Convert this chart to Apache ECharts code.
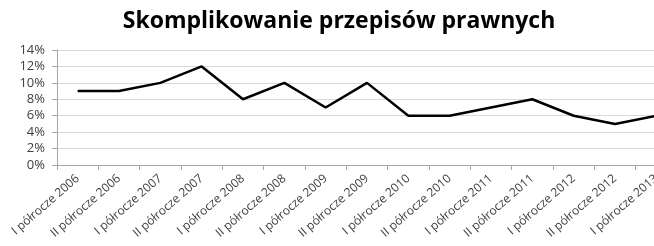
<!DOCTYPE html>
<html>
<head>
<meta charset="utf-8">
<script src="https://cdn.jsdelivr.net/npm/echarts@6/dist/echarts.min.js"></script>
<style>
  html, body { margin: 0; padding: 0; background: #fff; }
  #chart { width: 654px; height: 246px; }
</style>
</head>
<body>
<div id="chart"></div>
<script>
// dane
const categories = [
  'I półrocze 2006', 'II półrocze 2006', 'I półrocze 2007', 'II półrocze 2007',
  'I półrocze 2008', 'II półrocze 2008', 'I półrocze 2009', 'II półrocze 2009',
  'I półrocze 2010', 'II półrocze 2010', 'I półrocze 2011', 'II półrocze 2011',
  'I półrocze 2012', 'II półrocze 2012', 'I półrocze 2013'
];
const values = [9, 9, 10, 12, 8, 10, 7, 10, 6, 6, 7, 8, 6, 5, 6];
const yMin = 0, yMax = 14, yStep = 2;

const myChart = echarts.init(document.getElementById('chart'));

let options = {
  animation: false,
  title: {
    text: 'Skomplikowanie przepisów prawnych',
    left: 334, top: 5, textAlign: 'center',
    textStyle: { fontFamily: 'Open Sans', fontSize: 23, fontWeight: 'bold', color: '#000' }
  },
  grid: { left: 57, top: 50, width: 620, height: 115, outerBoundsMode: 'none', containLabel: false },
  xAxis: {
    type: 'category',
    data: categories,
    boundaryGap: true,
    axisLine: { lineStyle: { color: '#a6a6a6' } },
    axisTick: { show: true, alignWithLabel: false, length: 5, lineStyle: { color: '#a6a6a6' } },
    axisLabel: {
      interval: 0, rotate: 41, margin: 12,
      fontFamily: 'Open Sans', fontSize: 12, color: '#404040'
    }
  },
  yAxis: {
    type: 'value',
    min: yMin, max: yMax, interval: yStep,
    axisLine: { show: true, lineStyle: { color: '#a6a6a6' } },
    axisTick: { show: true, length: 5, lineStyle: { color: '#a6a6a6' } },
    splitLine: { lineStyle: { color: '#d9d9d9', width: 1 } },
    axisLabel: {
      formatter: '{value}%', margin: 12,
      fontFamily: 'Open Sans', fontSize: 13, color: '#404040'
    }
  },
  series: [{
    type: 'line',
    data: values,
    showSymbol: false,
    lineStyle: { color: '#000', width: 2.5 }
  }]
};
myChart.setOption(options);
</script>
</body>
</html>
